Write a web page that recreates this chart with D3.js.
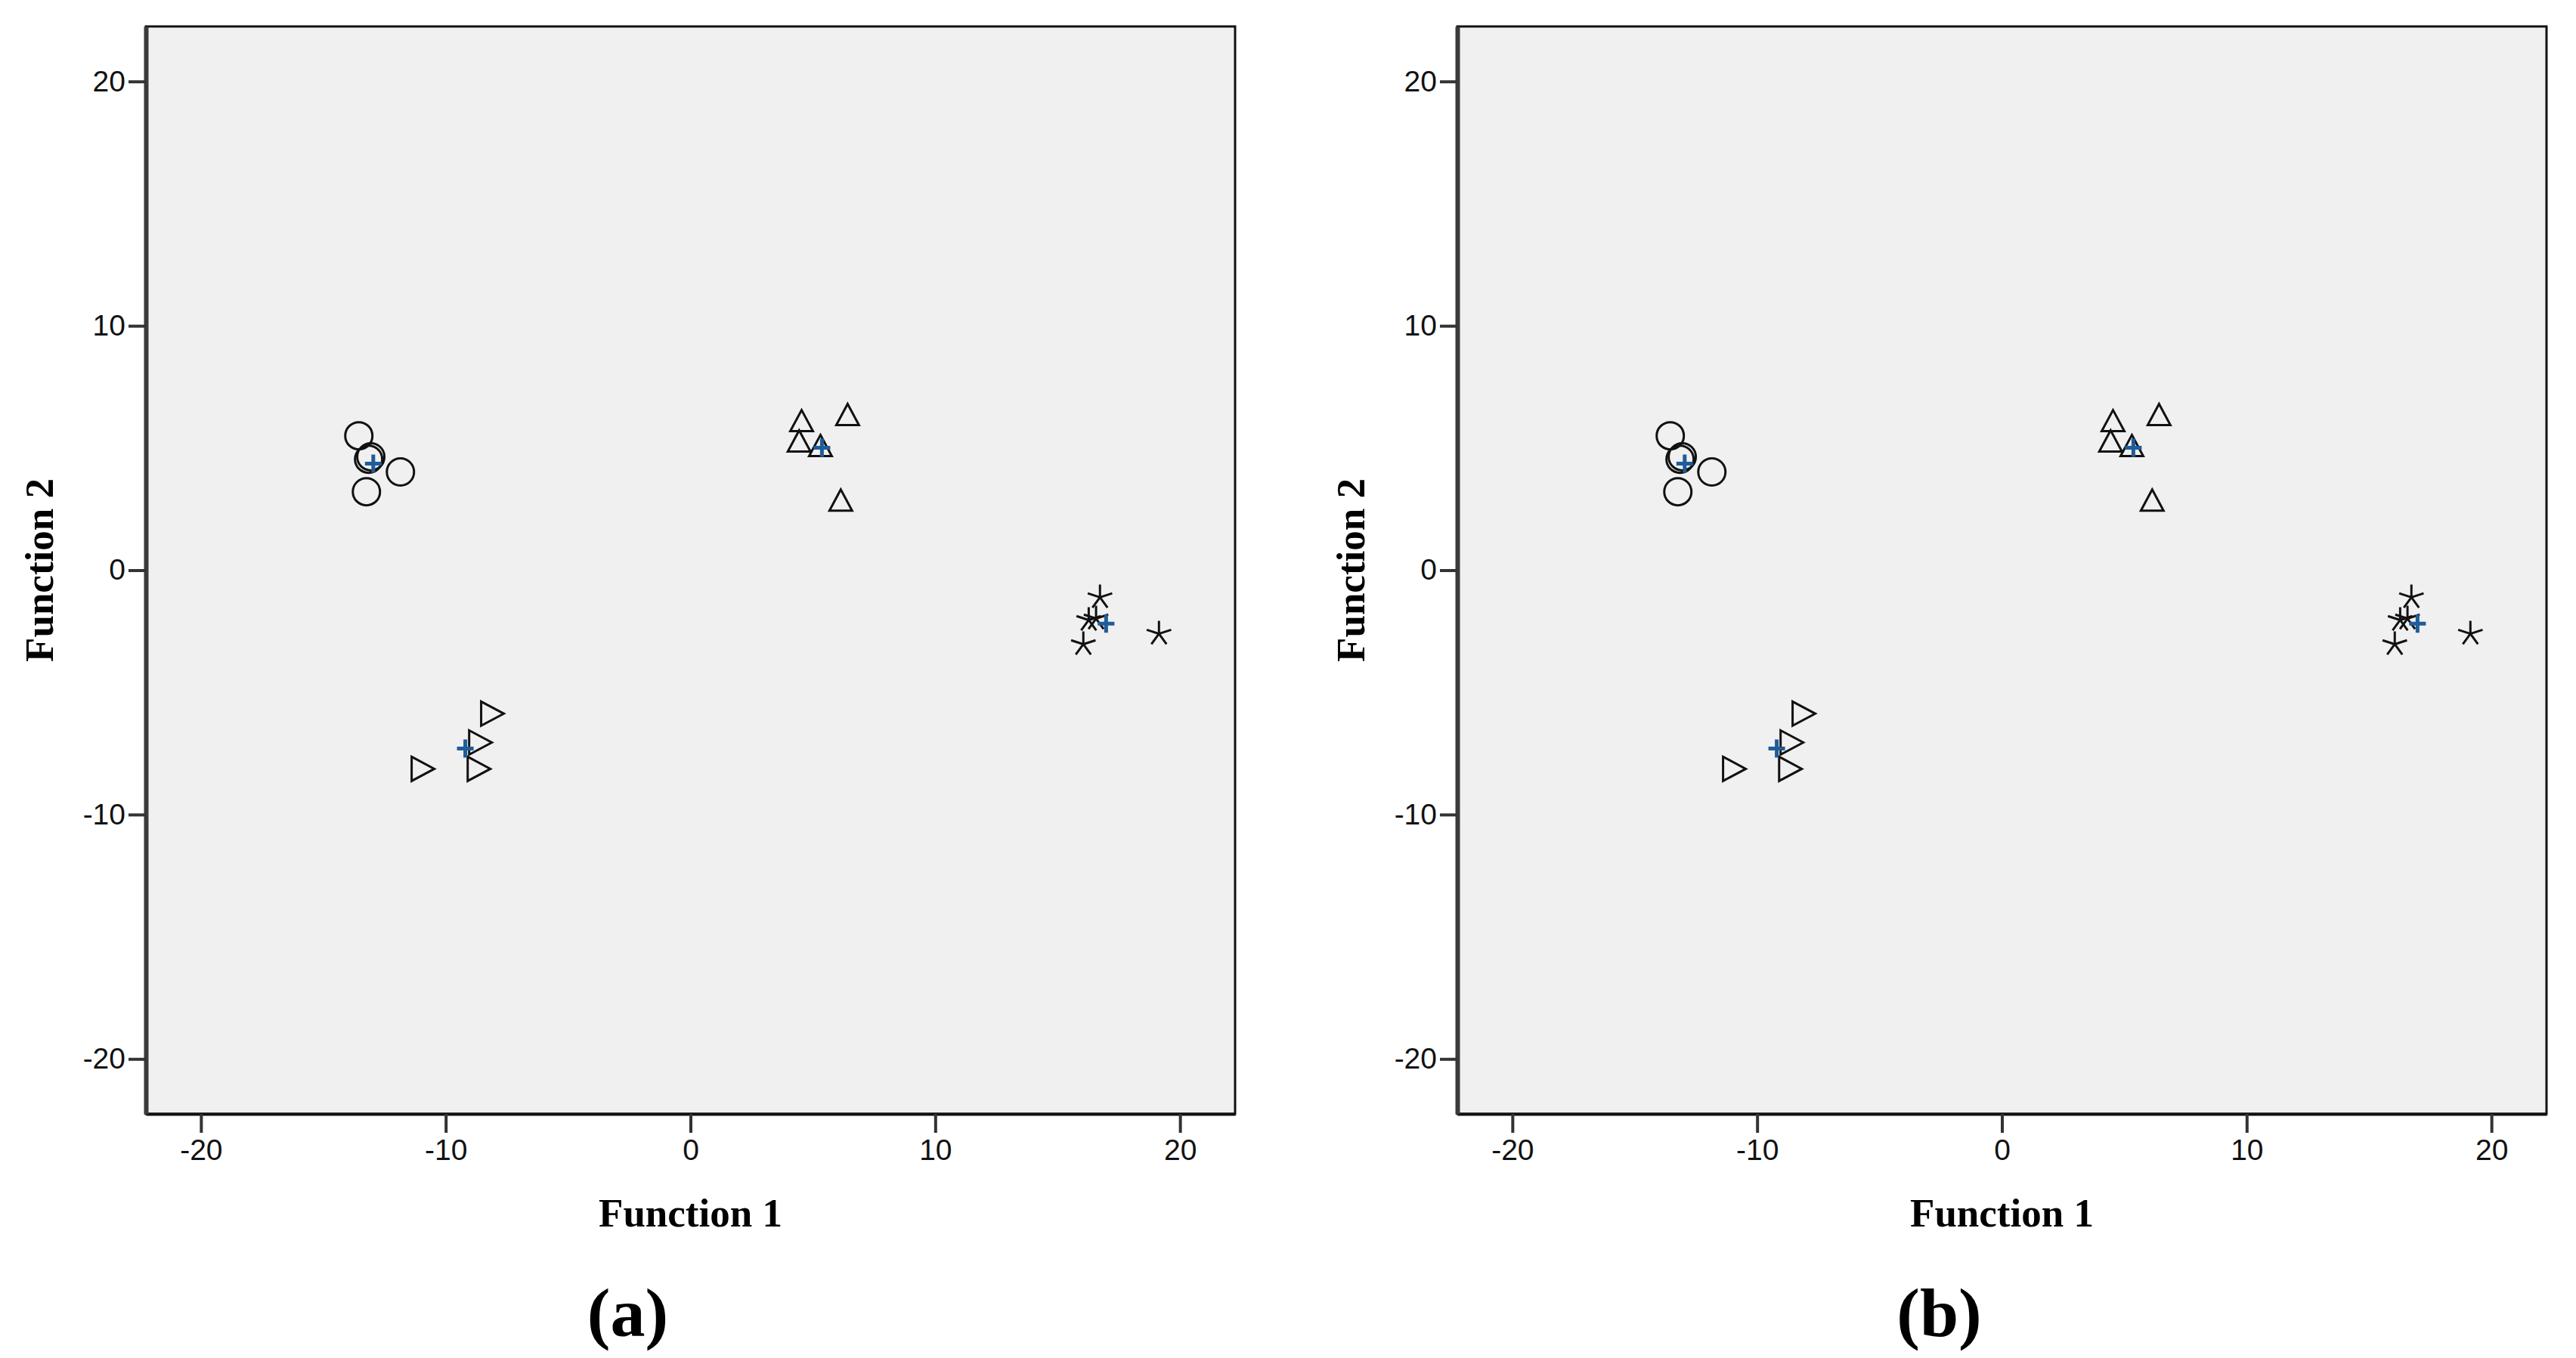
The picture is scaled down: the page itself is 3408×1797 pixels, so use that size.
<!DOCTYPE html>
<html>
<head>
<meta charset="utf-8">
<script src="https://cdn.jsdelivr.net/npm/d3@7"></script>
<style>
  body { margin: 0; background: #fff; }
  svg { display: block; }
  .tick text {
    font-family: 'Liberation Sans Narrow', 'Liberation Sans', Arial, sans-serif;
    font-size: 39px;
    fill: #111;
  }
  .axis-title, .panel-label {
    font-family: 'Liberation Serif', 'Times New Roman', serif;
    font-weight: bold;
    fill: #000;
  }
</style>
</head>
<body>
<script>
(function (d3) {
  'use strict';

  // discriminant scores: [function 1, function 2]
  const groupCircle = [[-13.55, 5.50], [-13.15, 4.54], [-13.06, 4.64], [-11.85, 4.02], [-13.24, 3.21]];
  const groupTriangle = [[4.54, 6.12], [4.44, 5.29], [5.31, 5.10], [6.42, 6.37], [6.14, 2.87]];
  const groupStar = [[16.73, -1.11], [16.27, -2.04], [16.57, -1.98], [16.05, -3.03], [19.14, -2.60]];
  const groupArrow = [[-8.12, -5.87], [-8.61, -7.05], [-8.67, -8.13], [-10.96, -8.13]];
  const centroids = [[-12.96, 4.36], [5.37, 5.01], [16.98, -2.19], [-9.20, -7.30]];

  const xTicks = [-20, -10, 0, 10, 20];
  const yTicks = [-20, -10, 0, 10, 20];
  const xDomain = [-22.25, 22.25];
  const yDomain = [-22.25, 22.25];
  const xTitle = 'Function 1';
  const yTitle = 'Function 2';
  const panelLabels = ['(a)', '(b)'];

  const width = 3408;
  const height = 1797;

  // marker paths, centred on the point
  const shapes = {
    circle: d3.symbol(d3.symbolCircle, Math.PI * 18 * 18)(),
    triangle: 'M0,-14L15,14L-15,14Z',
    arrow: 'M-14,-16L16,0L-14,16Z',
    star: d3.range(5).map((i) => {
      const a = (-90 + i * 72) * Math.PI / 180;
      return `M0,0L${(17 * Math.cos(a)).toFixed(2)},${(17 * Math.sin(a)).toFixed(2)}`;
    }).join(''),
    plus: 'M-11,0H11M0,-12V12'
  };

  // plain hyphen minus, like the original
  const tickFormat = (d) => String(d);

  const scatterPanel = () => {
    let plotWidth;
    let plotHeight;
    let groups;
    let label;

    const my = (selection) => {
      const xScale = d3.scaleLinear().domain(xDomain).range([0, plotWidth]);
      const yScale = d3.scaleLinear().domain(yDomain).range([plotHeight, 0]);

      selection.append('rect')
        .attr('width', plotWidth)
        .attr('height', plotHeight)
        .attr('fill', '#f0f0f0')
        .attr('stroke', '#111')
        .attr('stroke-width', 3);

      const xAxis = selection.append('g')
        .attr('transform', `translate(0,${plotHeight})`)
        .call(d3.axisBottom(xScale).tickValues(xTicks).tickFormat(tickFormat)
          .tickSize(25).tickPadding(8).tickSizeOuter(0));

      const yAxis = selection.append('g')
        .call(d3.axisLeft(yScale).tickValues(yTicks).tickFormat(tickFormat)
          .tickSize(23).tickPadding(4).tickSizeOuter(0));

      xAxis.select('.domain').attr('stroke', '#111').attr('stroke-width', 4);
      yAxis.select('.domain').attr('stroke', '#3a3a3a').attr('stroke-width', 6);
      selection.selectAll('.tick line').attr('stroke', '#333').attr('stroke-width', 4);

      // group cases
      groups.forEach((g) => {
        selection.append('g')
          .selectAll('path')
          .data(g.points)
          .join('path')
          .attr('transform', (d) => `translate(${xScale(d[0])},${yScale(d[1])})`)
          .attr('d', shapes[g.shape])
          .attr('fill', 'none')
          .attr('stroke', '#111')
          .attr('stroke-width', 3)
          .attr('stroke-linejoin', 'miter');
      });

      // group centroids
      selection.append('g')
        .selectAll('path')
        .data(centroids)
        .join('path')
        .attr('transform', (d) => `translate(${xScale(d[0])},${yScale(d[1])})`)
        .attr('d', shapes.plus)
        .attr('fill', 'none')
        .attr('stroke', '#1f5c9a')
        .attr('stroke-width', 5);

      selection.append('text')
        .attr('class', 'axis-title')
        .attr('x', plotWidth / 2)
        .attr('y', plotHeight + 149)
        .attr('text-anchor', 'middle')
        .attr('font-size', 53)
        .text(xTitle);

      selection.append('text')
        .attr('class', 'axis-title')
        .attr('transform', `translate(-123,${plotHeight / 2}) rotate(-90)`)
        .attr('text-anchor', 'middle')
        .attr('font-size', 53)
        .text(yTitle);

      selection.append('text')
        .attr('class', 'panel-label')
        .attr('x', plotWidth / 2 - 83)
        .attr('y', plotHeight + 294)
        .attr('text-anchor', 'middle')
        .attr('font-size', 92)
        .text(label);
    };

    my.plotWidth = function (_) {
      return arguments.length ? ((plotWidth = +_), my) : plotWidth;
    };
    my.plotHeight = function (_) {
      return arguments.length ? ((plotHeight = +_), my) : plotHeight;
    };
    my.groups = function (_) {
      return arguments.length ? ((groups = _), my) : groups;
    };
    my.label = function (_) {
      return arguments.length ? ((label = _), my) : label;
    };

    return my;
  };

  const svg = d3.select('body')
    .append('svg')
    .attr('width', width)
    .attr('height', height);

  const groups = [
    { shape: 'circle', points: groupCircle },
    { shape: 'triangle', points: groupTriangle },
    { shape: 'star', points: groupStar },
    { shape: 'arrow', points: groupArrow }
  ];

  const panelLeft = [193, 1928];

  panelLabels.forEach((lab, i) => {
    svg.append('g')
      .attr('transform', `translate(${panelLeft[i]},35)`)
      .call(
        scatterPanel()
          .plotWidth(1441)
          .plotHeight(1439)
          .groups(groups)
          .label(lab)
      );
  });
}(d3));
</script>
</body>
</html>
